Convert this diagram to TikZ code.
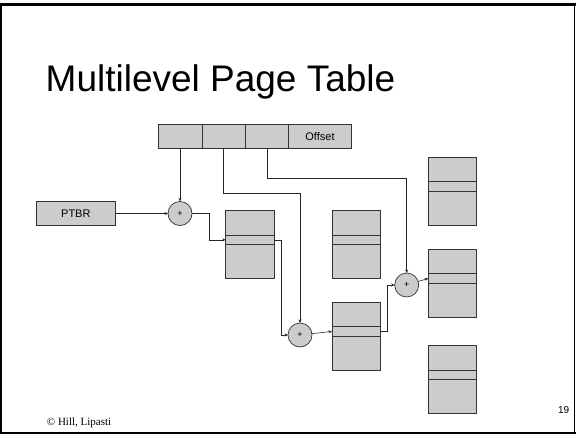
\documentclass[tikz,border=0pt]{standalone}
\usepackage{fontspec}
\setmainfont{Liberation Sans}
\newfontfamily\serifcredit{Liberation Serif}
\usetikzlibrary{arrows.meta}
\definecolor{boxfill}{HTML}{CCCCCC}
\definecolor{edge}{HTML}{333333}
\tikzset{
  cellbox/.style={draw=edge, fill=boxfill, line width=0.7pt, inner sep=0pt, outer sep=0pt,
    minimum height=24pt, font=\fontsize{11}{12}\selectfont},
  tablebox/.style={draw=edge, fill=boxfill, line width=0.7pt, inner sep=0pt, outer sep=0pt,
    minimum width=48.4pt, minimum height=67.6pt},
  entrybox/.style={draw=edge, fill=boxfill, line width=0.7pt, inner sep=0pt, outer sep=0pt,
    minimum width=48.4pt, minimum height=9.5pt},
  adder/.style={circle, draw=edge, fill=boxfill, line width=0.7pt, inner sep=0pt, outer sep=0pt,
    minimum size=24pt, font=\fontsize{9}{10}\selectfont},
  wire/.style={draw=black!85, line width=0.6pt},
  arr/.style={wire, -{Stealth[length=3.5pt,width=3pt]}},
}
\begin{document}
\begin{tikzpicture}[x=1pt,y=-1pt]
\useasboundingbox (0,0) rectangle (576,436);

% slide frame
\draw[line width=1.2pt] (1,4.5) rectangle (574.5,433);
\draw[line width=2.5pt] (0,4.5) -- (576,4.5);
\draw[line width=2.5pt] (0,433) -- (576,433);

% title and footer texts
\node[anchor=base west, inner sep=0pt, font=\fontsize{37}{40}\selectfont] (title) at (45.5,91.7) {Multilevel Page Table};
\node[anchor=base west, inner sep=0pt, font=\serifcredit\fontsize{11}{12}\selectfont] (credit) at (46.7,425.7) {© Hill, Lipasti};
\node[anchor=base east, inner sep=0pt, font=\fontsize{10}{11}\selectfont] (pagenum) at (569.5,413.3) {19};

% virtual address fields
\node[cellbox, minimum width=44pt] (c1) at (180,136.3) {};
\node[cellbox, minimum width=43.5pt] (c2) at (223.75,136.3) {};
\node[cellbox, minimum width=43pt] (c3) at (267,136.3) {};
\node[cellbox, minimum width=63pt] (off) at (320,136.3) {Offset};

% page table base register
\node[cellbox, minimum width=78.3pt] (ptbr) at (75.85,213.5) {PTBR};

% adders
\node[adder] (p1) at (180,213.5) {+};
\node[adder] (p2) at (300,335) {+};
\node[adder] (p3) at (406.7,285) {+};

% page tables with their selected entries
\node[tablebox] (t1) at (249.85,244.5) {};
\node[entrybox] (r1) at (249.85,239.8) {};
\node[tablebox] (t2) at (356.15,244.5) {};
\node[entrybox] (r2) at (356.15,239.8) {};
\node[tablebox] (t3) at (356.15,336.15) {};
\node[entrybox] (r3) at (356.15,331.45) {};
\node[tablebox] (t4) at (452.5,191.15) {};
\node[entrybox] (r4) at (452.5,186.45) {};
\node[tablebox] (t5) at (452.5,283.15) {};
\node[entrybox] (r5) at (452.5,278.45) {};
\node[tablebox] (t6) at (452.5,379.5) {};
\node[entrybox] (r6) at (452.5,374.8) {};

% bend points of the wires
\coordinate (k2) at (300,193);
\coordinate (k3) at (406.7,178.3);
\coordinate (j1) at (209.3,213.5);
\coordinate (j2) at (281.7,239.8);
\coordinate (j3) at (387.3,331.45);

% wires
\draw[arr] (c1.south) -- (p1.north);
\draw[arr] (c2.south) |- (k2) -- (p2.north);
\draw[arr] (c3.south) |- (k3) -- (p3.north);
\draw[arr] (ptbr.east) -- (p1.west);
\draw[arr] (p1.east) -- (j1) |- (r1.west);
\draw[arr] (r1.east) -- (j2) |- (p2.west);
\draw[arr] (p2) -- (r3.west);
\draw[arr] (r3.east) -- (j3) |- (p3.west);
\draw[arr] (p3) -- (r5.west);
\end{tikzpicture}
\end{document}
